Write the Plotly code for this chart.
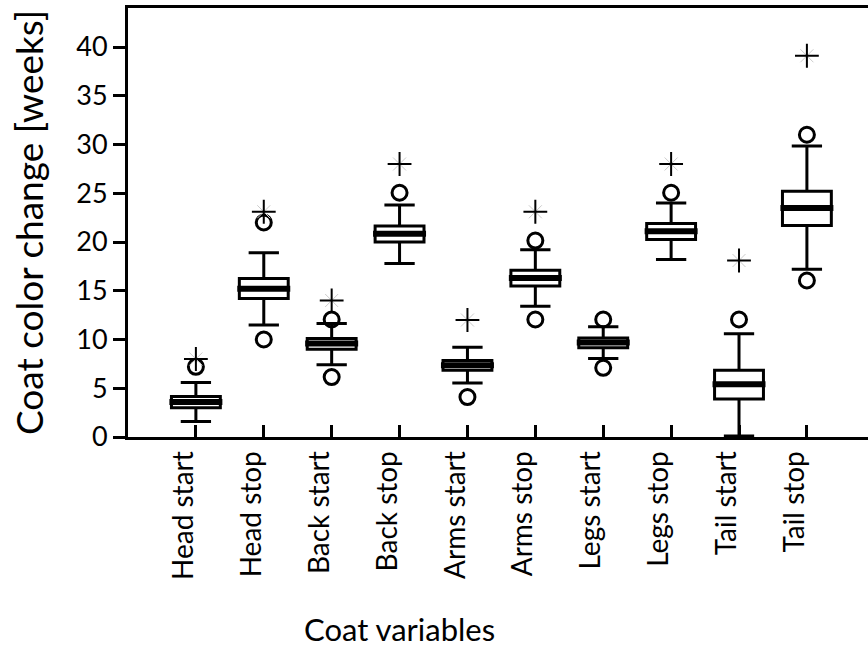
import plotly.graph_objects as go

# Coat colour change timing (weeks) for each body region
categories = ["Head start", "Head stop", "Back start", "Back stop", "Arms start",
              "Arms stop", "Legs start", "Legs stop", "Tail start", "Tail stop"]
q1 = [3.0, 14.2, 9.0, 20.0, 6.85, 15.5, 9.15, 20.25, 3.9, 21.7]
median = [3.6, 15.2, 9.6, 20.85, 7.35, 16.3, 9.7, 21.1, 5.4, 23.5]
q3 = [4.15, 16.25, 10.1, 21.65, 7.85, 17.1, 10.15, 21.9, 6.85, 25.2]
lower_whisker = [1.6, 11.5, 7.4, 17.8, 5.55, 13.4, 8.05, 18.2, 0.1, 17.2]
upper_whisker = [5.6, 18.9, 11.65, 23.8, 9.2, 19.2, 11.3, 24.0, 10.6, 29.85]
outliers = [[7.2], [10.0, 22.0], [6.15, 12.05], [25.05], [4.1],
            [12.05, 20.15], [7.1, 12.05], [25.05], [12.05], [16.05, 31.0]]
extremes = [8.0, 23.1, 14.0, 28.0, 12.0, 23.1, None, 28.0, 18.1, 39.1]
y_ticks = [0, 5, 10, 15, 20, 25, 30, 35, 40]

positions = list(range(1, len(categories) + 1))
BOX_W = 0.72
MED_HALF = 0.39
FONT = "Lato"

fig = go.Figure()

fig.add_trace(go.Box(
    x=positions, q1=q1, median=median, q3=q3,
    lowerfence=lower_whisker, upperfence=upper_whisker,
    width=BOX_W, whiskerwidth=0.62, boxpoints=False,
    line=dict(color="black", width=3), fillcolor="white",
    showlegend=False, hoverinfo="skip",
))

# thick median bars
mx, my = [], []
for p, m in zip(positions, median):
    mx += [p - MED_HALF, p + MED_HALF, None]
    my += [m, m, None]
fig.add_trace(go.Scatter(x=mx, y=my, mode="lines",
                         line=dict(color="black", width=6),
                         showlegend=False, hoverinfo="skip"))

# outliers as open circles
ox, oy = [], []
for p, vals in zip(positions, outliers):
    for v in vals:
        ox.append(p)
        oy.append(v)
fig.add_trace(go.Scatter(x=ox, y=oy, mode="markers",
                         marker=dict(symbol="circle-open", size=15,
                                     color="black", line=dict(width=3)),
                         showlegend=False, hoverinfo="skip"))

# extreme values as asterisk-like plus marks
ex = [p for p, v in zip(positions, extremes) if v is not None]
ey = [v for v in extremes if v is not None]
fig.add_trace(go.Scatter(x=ex, y=ey, mode="markers",
                         marker=dict(symbol="x-thin-open", size=13,
                                     color="#cccccc", line=dict(width=1, color="#cccccc")),
                         showlegend=False, hoverinfo="skip"))
fig.add_trace(go.Scatter(x=ex, y=ey, mode="markers",
                         marker=dict(symbol="cross-thin-open", size=17,
                                     color="black", line=dict(width=2, color="black")),
                         showlegend=False, hoverinfo="skip"))

fig.add_annotation(text="Coat variables", x=4.0, xref="x", y=0, yref="paper",
                   yshift=-171, yanchor="top", showarrow=False,
                   font=dict(family=FONT, size=31, color="black"))

fig.update_layout(
    width=868, height=654,
    margin=dict(l=128, r=0, t=8, b=217),
    paper_bgcolor="white", plot_bgcolor="white",
    font=dict(family=FONT, color="black"),
    xaxis=dict(
        range=[0, 10.9], tickvals=positions, ticktext=categories,
        tickangle=-90, ticks="inside", ticklen=12, tickwidth=3, tickcolor="black",
        tickfont=dict(family=FONT, size=28, color="black"),
        ticklabelshift=-12,
        showline=True, linewidth=3, linecolor="black", mirror=True,
        showgrid=False, zeroline=False,
    ),
    yaxis=dict(
        range=[0, 44], tickvals=y_ticks,
        ticks="outside", ticklen=12, tickwidth=3, tickcolor="black",
        tickfont=dict(family=FONT, size=27, color="black"),
        showline=True, linewidth=3, linecolor="black",
        showgrid=False, zeroline=False,
        title=dict(text="Coat color change [weeks]", standoff=22,
                   font=dict(family=FONT, size=37, color="black")),
    ),
)

fig.write_html("out.html")
